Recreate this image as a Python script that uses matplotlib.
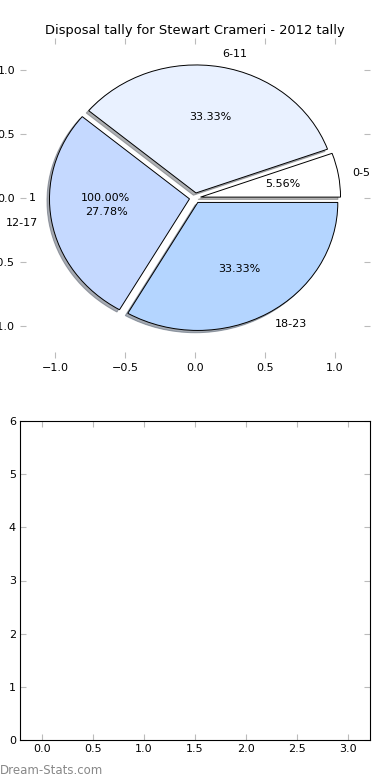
import matplotlib
matplotlib.use("Agg")
import matplotlib.pyplot as plt

# data
labels = ["0-5", "6-11", "12-17", "18-23"]
counts = [1, 6, 5, 6]
colors = ["#ffffff", "#e9f1ff", "#c5d9ff", "#b4d5ff"]
explode = [0.04, 0.04, 0.04, 0.04]
title = "Disposal tally for Stewart Crameri - 2012 tally"

TICK_GREY = "#bbbbbb"
FS = 8

fig = plt.figure(figsize=(3.9, 7.8), dpi=100)

# top: exploded pie with shadow, frame off but ticks left on
ax = fig.add_axes([20 / 390, 1 - 358 / 780, 350 / 390, 320 / 780])
# stray single-value pie that leaves "1" / "100.00%" behind
ax.pie([1], explode=[0.04], labels=["1"], autopct="%.2f%%",
       wedgeprops=dict(facecolor="none", linewidth=0),
       textprops=dict(fontsize=FS))
ax.pie(counts, explode=explode, labels=labels, colors=colors,
       autopct="%.2f%%",
       shadow=dict(ox=-0.013, oy=-0.013, shade=0.6),
       wedgeprops=dict(edgecolor="black", linewidth=0.7),
       textprops=dict(fontsize=FS))
ax.set_aspect("auto")
ax.set_frame_on(False)
ax.set_xlim(-1.25, 1.25)
ax.set_ylim(-1.25, 1.25)
ax.set_xticks([-1.0, -0.5, 0.0, 0.5, 1.0])
ax.set_yticks([-1.0, -0.5, 0.0, 0.5, 1.0])
ax.tick_params(direction="in", length=4, color=TICK_GREY, labelsize=FS,
               top=True, right=True)
ax.set_title(title, fontsize=9.4, pad=3)

# bottom: empty axes
ax2 = fig.add_axes([20 / 390, 40 / 780, 350 / 390, 319 / 780])
ax2.set_xlim(-0.22, 3.22)
ax2.set_ylim(0, 6)
ax2.set_xticks([0.0, 0.5, 1.0, 1.5, 2.0, 2.5, 3.0])
ax2.set_xticklabels(["0.0", "0.5", "1.0", "1.5", "2.0", "2.5", "3.0"])
ax2.set_yticks(range(7))
ax2.tick_params(direction="in", length=4, color=TICK_GREY, labelsize=FS,
                top=True, right=True, pad=3)

# watermark
fig.text(0.0, 1 - 770 / 780, "Dream-Stats.com", color="#888888",
         fontsize=8.5, ha="left", va="center")

fig.savefig("out.png", dpi=100)
